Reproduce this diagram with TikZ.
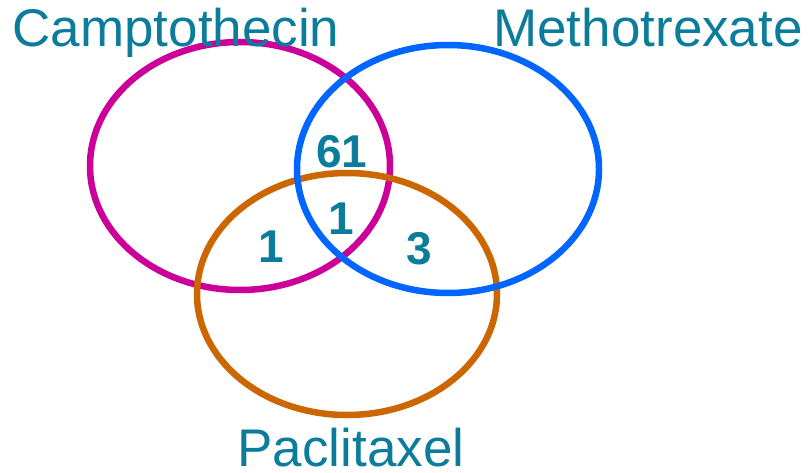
\documentclass[tikz,border=0pt]{standalone}
\usepackage{fontspec}
\setmainfont{Liberation Sans}
\definecolor{tealtxt}{HTML}{0B7D9A}
\definecolor{cmag}{HTML}{CC0099}
\definecolor{cblue}{HTML}{0066FF}
\definecolor{corange}{HTML}{CC6600}
\tikzset{
  setlabel/.style={text=tealtxt, font=\fontsize{53}{60}\selectfont, anchor=base, inner sep=0pt},
  countlabel/.style={text=tealtxt, font=\fontsize{46}{50}\selectfont\bfseries, inner sep=0pt},
  ring/.style={line width=6.5pt}
}
\begin{document}
\begin{tikzpicture}[x=1pt,y=-1pt]
\useasboundingbox (0,0) rectangle (808,473);
\draw[ring, cmag] (240,166) ellipse [x radius=150, y radius=124];
\draw[ring, corange] (347,294) ellipse [x radius=150, y radius=121];
\draw[ring, cblue] (448,169) ellipse [x radius=151, y radius=124];
\node[setlabel] (camp) at (176,47) {Camptothecin};
\node[setlabel] (meth) at (648,47) {Methotrexate};
\node[setlabel] (pacl) at (351,466) {Paclitaxel};
\node[countlabel] (n61) at (342,152) {61};
\node[countlabel] (n1c) at (341,219) {1};
\node[countlabel] (n1l) at (271,247) {1};
\node[countlabel] (n3) at (419,249) {3};
\end{tikzpicture}
\end{document}
